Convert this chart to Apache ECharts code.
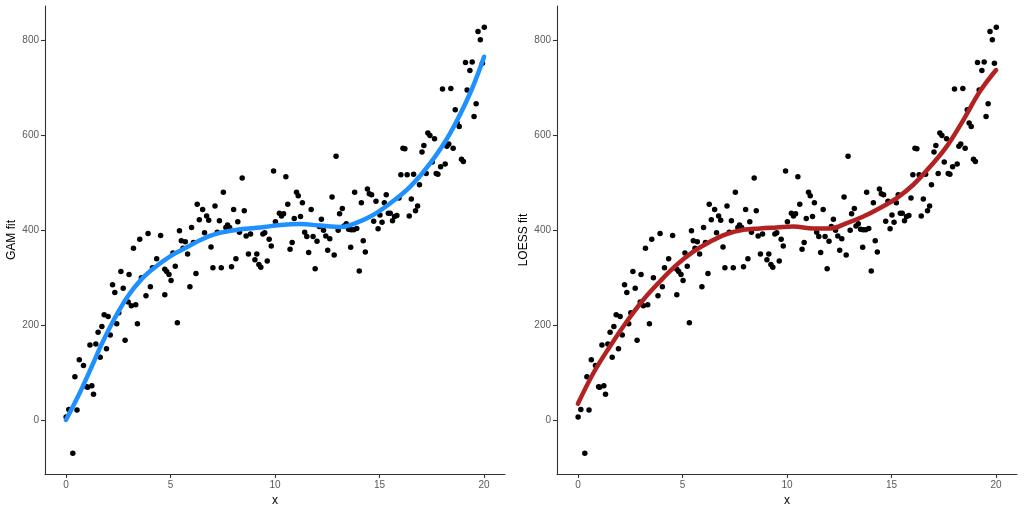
<!DOCTYPE html>
<html><head><meta charset="utf-8">
<script src="https://cdn.jsdelivr.net/npm/echarts@6/dist/echarts.min.js"></script>
<style>html,body{margin:0;padding:0;background:#fff}#c{width:1024px;height:512px}</style>
</head><body><div id="c"></div>
<script>
const pointX = [0.33,0.01,0.14,0.53,0.43,0.64,0.84,0.99,1.04,1.24,1.32,1.15,1.43,1.64,1.54,1.72,1.94,1.83,2.02,2.12,2.43,2.53,2.23,2.34,2.63,2.74,2.83,3.02,2.98,3.13,3.34,3.42,3.23,3.53,3.61,3.83,3.93,4.04,4.14,4.34,4.53,4.73,4.73,4.82,4.93,5.03,5.23,5.33,5.12,5.43,5.52,5.71,5.82,5.93,6.01,6.22,6.28,6.38,
6.54,6.63,6.73,6.83,6.94,7.03,7.13,7.24,7.34,7.43,7.53,7.65,7.73,7.83,7.92,8.02,8.13,8.22,8.43,8.53,8.62,8.73,8.83,9.04,9.13,9.23,9.32,9.42,9.51,9.63,9.72,9.82,9.93,10.02,10.21,10.31,10.41,10.52,10.61,10.72,10.82,10.92,11.03,11.11,11.22,11.31,11.42,11.52,11.61,11.73,11.82,11.92,12.01,12.12,12.22,12.32,12.43,12.52,12.62,12.73,12.83,12.92,13.02,13.09,
13.22,13.41,13.52,13.64,13.76,13.91,13.62,13.81,14.03,14.13,14.22,14.32,14.42,14.51,14.62,14.72,14.83,14.93,15.02,15.12,15.23,15.32,15.42,15.51,15.62,15.72,15.83,15.93,16.02,16.12,16.21,16.32,16.42,16.52,16.63,16.72,16.82,16.91,17.03,17.12,17.23,17.31,17.41,17.52,17.63,17.71,17.79,17.92,18.01,18.14,18.22,18.31,18.41,18.52,18.62,18.71,18.81,18.92,19.01,19.11,19.19,19.32,19.43,19.52,19.62,19.71,19.82,20.01,
5.6,6.1,8.3,19.92,13.3];
const pointY = [-70,6,22,21,91,127,115,70,69,72,54,158,160,132,185,197,150,222,218,179,203,226,285,269,313,278,168,307,249,241,243,203,362,381,300,262,393,281,321,340,389,318,264,313,307,294,324,205,352,399,378,376,350,281,406,309,455,422,
444,395,430,421,365,321,451,396,420,321,480,406,411,406,323,444,340,418,510,441,388,350,392,338,350,328,322,392,395,335,381,367,525,418,436,430,435,513,455,360,374,425,480,473,429,458,396,387,353,444,387,319,377,408,423,400,388,358,382,470,348,556,400,435,
446,414,402,401,401,404,364,480,314,458,378,354,487,477,475,419,461,403,432,417,458,475,436,436,420,429,431,468,517,573,572,517,430,466,518,441,451,496,565,579,520,605,600,544,593,520,518,534,698,540,577,582,699,573,654,626,619,550,545,754,696,737,755,640,667,819,802,828,
362,374,396,752,409];

// GAM fit curve
const gamX = [0,0.67,1.31,1.71,2.34,2.98,3.62,4.26,5.06,5.78,6.41,7.21,8.35,9.31,10.26,11.2,12.17,13.13,13.6,14.56,15.51,16.47,17.42,18.38,19.33,20];
const gamY = [0,58,120,160,215,262,297,322,347,364,379,393,402,406,411,413,410,407,411,429,457,492,541,605,689,766];

// LOESS fit curve
const loessX = [0,0.73,1.53,2.33,3.12,3.92,4.72,5.52,6.32,7.11,7.91,8.71,9.5,10.3,11.26,12.06,12.86,13.65,14.45,15.25,16.04,16.84,17.64,18.44,19.23,20];
const loessY = [34,98,155,207,253,292,327,355,376,392,401,404,406,408,404,404,415,429,447,468,496,534,577,633,693,738];

const xTicks = [0,5,10,15,20];
const yTicks = [0,200,400,600,800];
const yTitles = ['GAM fit','LOESS fit'];

const pts = pointX.map((x,i)=>[x,pointY[i]]);
const gam = gamX.map((x,i)=>[x,gamY[i]]);
const loess = loessX.map((x,i)=>[x,loessY[i]]);

const font = 'Liberation Sans, Arial, sans-serif';
function xAx(gi){return {gridIndex:gi,type:'value',min:-1,max:21,name:'x',nameLocation:'middle',nameGap:19,
  nameTextStyle:{color:'#000',fontSize:12,fontFamily:font},
  axisLine:{show:true,onZero:false,lineStyle:{color:'#333',width:1.1}},
  axisTick:{show:true,length:4,customValues:xTicks,lineStyle:{color:'#333',width:1.1}},
  axisLabel:{customValues:xTicks,color:'#5a5a5a',fontSize:10,fontFamily:font,margin:6},
  splitLine:{show:false}};}
function yAx(gi){return {gridIndex:gi,type:'value',min:-114,max:873,name:yTitles[gi],nameLocation:'middle',nameGap:27,nameRotate:90,
  nameTextStyle:{color:'#000',fontSize:12,fontFamily:font},
  axisLine:{show:true,onZero:false,lineStyle:{color:'#333',width:1.1}},
  axisTick:{show:true,length:4,customValues:yTicks,lineStyle:{color:'#333',width:1.1}},
  axisLabel:{customValues:yTicks,color:'#5a5a5a',fontSize:10,fontFamily:font,margin:6},
  splitLine:{show:false}};}

const chart = echarts.init(document.getElementById('c'),null,{renderer:'canvas'});
chart.setOption({
  animation:false,
  backgroundColor:'#fff',
  grid:[{left:45,top:6,width:460,height:468},{left:557,top:6,width:460,height:468}],
  xAxis:[xAx(0),xAx(1)],
  yAxis:[yAx(0),yAx(1)],
  series:[
    {type:'scatter',xAxisIndex:0,yAxisIndex:0,data:pts,symbolSize:5.5,itemStyle:{color:'#000',opacity:1},z:2},
    {type:'line',xAxisIndex:0,yAxisIndex:0,data:gam,smooth:0.4,showSymbol:false,lineStyle:{color:'#1E90FF',width:4.5,cap:'round'},z:3},
    {type:'scatter',xAxisIndex:1,yAxisIndex:1,data:pts,symbolSize:5.5,itemStyle:{color:'#000',opacity:1},z:2},
    {type:'line',xAxisIndex:1,yAxisIndex:1,data:loess,smooth:0.4,showSymbol:false,lineStyle:{color:'#B22222',width:4.5,cap:'round'},z:3}
  ]
});
</script></body></html>
